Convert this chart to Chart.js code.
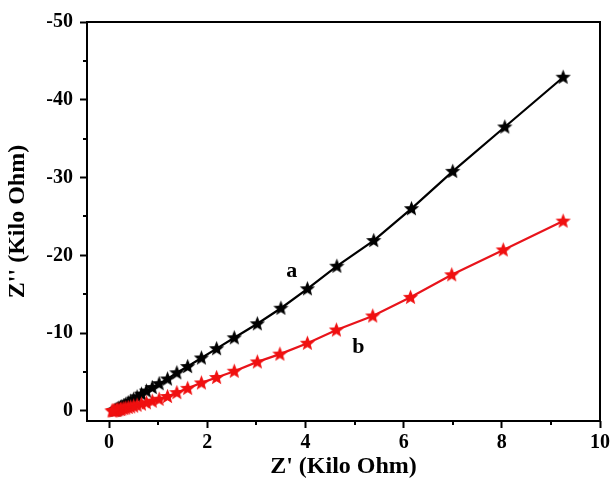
<!DOCTYPE html>
<html lang="en">
<head>
    <meta charset="UTF-8">
    <title>Nyquist plot</title>
    <script src="https://cdn.jsdelivr.net/npm/chart.js"></script>
    <style>
        html, body { margin: 0; padding: 0; background: #fff; }
        .wrap { width: 613px; height: 486px; }
    </style>
</head>
<body>
    <div class="wrap">
        <canvas id="nyquist"></canvas>
    </div>

    <script>
        // sample a
        const aX = [9.25, 8.06, 7.0, 6.16, 5.39, 4.64, 4.04, 3.5, 3.02, 2.55, 2.19, 1.88, 1.6, 1.38, 1.19, 1.02, 0.88, 0.76, 0.66, 0.57, 0.5, 0.44, 0.39, 0.34, 0.3, 0.26, 0.23, 0.2, 0.18, 0.16, 0.14, 0.12];
        const aY = [-42.9, -36.5, -30.8, -26.0, -21.9, -18.6, -15.7, -13.2, -11.2, -9.4, -8.0, -6.8, -5.7, -4.9, -4.1, -3.5, -3.0, -2.55, -2.15, -1.8, -1.5, -1.25, -1.05, -0.86, -0.7, -0.57, -0.46, -0.36, -0.28, -0.2, -0.13, -0.08];
        // sample b
        const bX = [9.25, 8.03, 6.98, 6.14, 5.37, 4.63, 4.04, 3.48, 3.02, 2.55, 2.19, 1.88, 1.6, 1.38, 1.19, 1.02, 0.88, 0.76, 0.66, 0.57, 0.5, 0.44, 0.39, 0.34, 0.3, 0.26, 0.23, 0.2, 0.17, 0.15, 0.12, 0.1, 0.08, 0.06];
        const bY = [-24.4, -20.7, -17.5, -14.6, -12.2, -10.4, -8.7, -7.3, -6.3, -5.1, -4.3, -3.6, -2.9, -2.35, -1.85, -1.5, -1.25, -1.05, -0.88, -0.74, -0.62, -0.52, -0.44, -0.37, -0.3, -0.24, -0.19, -0.15, -0.11, -0.08, -0.05, -0.03, -0.01, 0];

        const xTicks = [0, 2, 4, 6, 8, 10];
        const xMinor = [1, 3, 5, 7, 9];
        const yTicks = [-50, -40, -30, -20, -10, 0];
        const yMinor = [-45, -35, -25, -15, -5];

        const seriesLabels = [
            { text: 'a', x: 3.72, y: -18.0 },
            { text: 'b', x: 5.08, y: -8.2 }
        ];

        const FONT = '"Liberation Serif", "Times New Roman", serif';

        // filled five point star used as point marker
        function makeStar(color) {
            const c = document.createElement('canvas');
            c.width = 17;
            c.height = 17;
            const g = c.getContext('2d');
            const cx = 8.5, cy = 8.8, outer = 8, inner = 3.5;
            g.beginPath();
            for (let i = 0; i < 10; i++) {
                const r = i % 2 === 0 ? outer : inner;
                const ang = -Math.PI / 2 + i * Math.PI / 5;
                const px = cx + r * Math.cos(ang);
                const py = cy + r * Math.sin(ang);
                if (i === 0) g.moveTo(px, py); else g.lineTo(px, py);
            }
            g.closePath();
            g.fillStyle = color;
            g.fill();
            return c;
        }

        const toPoints = (xs, ys) => xs.map((x, i) => ({ x: x, y: ys[i] }));

        const extras = {
            id: 'extras',
            afterDraw(chart) {
                const ctx = chart.ctx;
                const area = chart.chartArea;
                const xs = chart.scales.x;
                const ys = chart.scales.y;
                ctx.save();
                ctx.strokeStyle = '#000';
                ctx.lineWidth = 2;
                ctx.strokeRect(area.left, area.top, area.right - area.left, area.bottom - area.top);

                // minor ticks
                ctx.beginPath();
                xMinor.forEach(v => {
                    const px = Math.round(xs.getPixelForValue(v));
                    ctx.moveTo(px, area.bottom);
                    ctx.lineTo(px, area.bottom + 4);
                });
                yMinor.forEach(v => {
                    const py = Math.round(ys.getPixelForValue(v));
                    ctx.moveTo(area.left, py);
                    ctx.lineTo(area.left - 4, py);
                });
                ctx.stroke();

                ctx.fillStyle = '#000';
                ctx.font = 'bold 22px ' + FONT;
                ctx.textAlign = 'center';
                ctx.textBaseline = 'middle';
                seriesLabels.forEach(l => {
                    ctx.fillText(l.text, xs.getPixelForValue(l.x), ys.getPixelForValue(l.y));
                });
                ctx.restore();
            }
        };

        document.addEventListener('DOMContentLoaded', function () {
            const ctx = document.getElementById('nyquist').getContext('2d');

            new Chart(ctx, {
                type: 'line',
                data: {
                    datasets: [
                        {
                            label: 'b',
                            data: toPoints(bX, bY),
                            borderColor: '#e8141b',
                            borderWidth: 2.2,
                            pointStyle: makeStar('#f01010'),
                            pointRadius: 8,
                            order: 1
                        },
                        {
                            label: 'a',
                            data: toPoints(aX, aY),
                            borderColor: '#000',
                            borderWidth: 2.2,
                            pointStyle: makeStar('#000'),
                            pointRadius: 8,
                            order: 2
                        }
                    ]
                },
                options: {
                    responsive: true,
                    maintainAspectRatio: false,
                    animation: false,
                    events: [],
                    layout: { padding: { top: 22, right: 13, left: 0, bottom: 0 } },
                    plugins: {
                        legend: { display: false },
                        tooltip: { enabled: false }
                    },
                    scales: {
                        x: {
                            type: 'linear',
                            min: -0.45,
                            max: 10,
                            afterBuildTicks: s => { s.ticks = xTicks.map(v => ({ value: v })); },
                            afterFit: s => { s.height = 65; },
                            border: { display: false },
                            grid: {
                                drawOnChartArea: false,
                                drawTicks: true,
                                tickLength: 7,
                                tickWidth: 2,
                                tickColor: '#000'
                            },
                            ticks: {
                                color: '#000',
                                padding: 3,
                                maxRotation: 0,
                                font: { family: FONT, size: 20, weight: 'bold' }
                            },
                            title: {
                                display: true,
                                text: "Z' (Kilo Ohm)",
                                color: '#000',
                                padding: { top: 0, bottom: 5 },
                                font: { family: FONT, size: 24, weight: 'bold' }
                            }
                        },
                        y: {
                            type: 'linear',
                            reverse: true,
                            min: -50,
                            max: 1.3,
                            afterBuildTicks: s => { s.ticks = yTicks.map(v => ({ value: v })); },
                            afterFit: s => { s.width = 87; },
                            border: { display: false },
                            grid: {
                                drawOnChartArea: false,
                                drawTicks: true,
                                tickLength: 7,
                                tickWidth: 2,
                                tickColor: '#000'
                            },
                            ticks: {
                                color: '#000',
                                padding: 7,
                                font: { family: FONT, size: 20, weight: 'bold' }
                            },
                            title: {
                                display: true,
                                text: "Z'' (Kilo Ohm)",
                                color: '#000',
                                padding: { top: 3, bottom: 0 },
                                font: { family: FONT, size: 24, weight: 'bold' }
                            }
                        }
                    }
                },
                plugins: [extras]
            });
        });
    </script>
</body>
</html>
